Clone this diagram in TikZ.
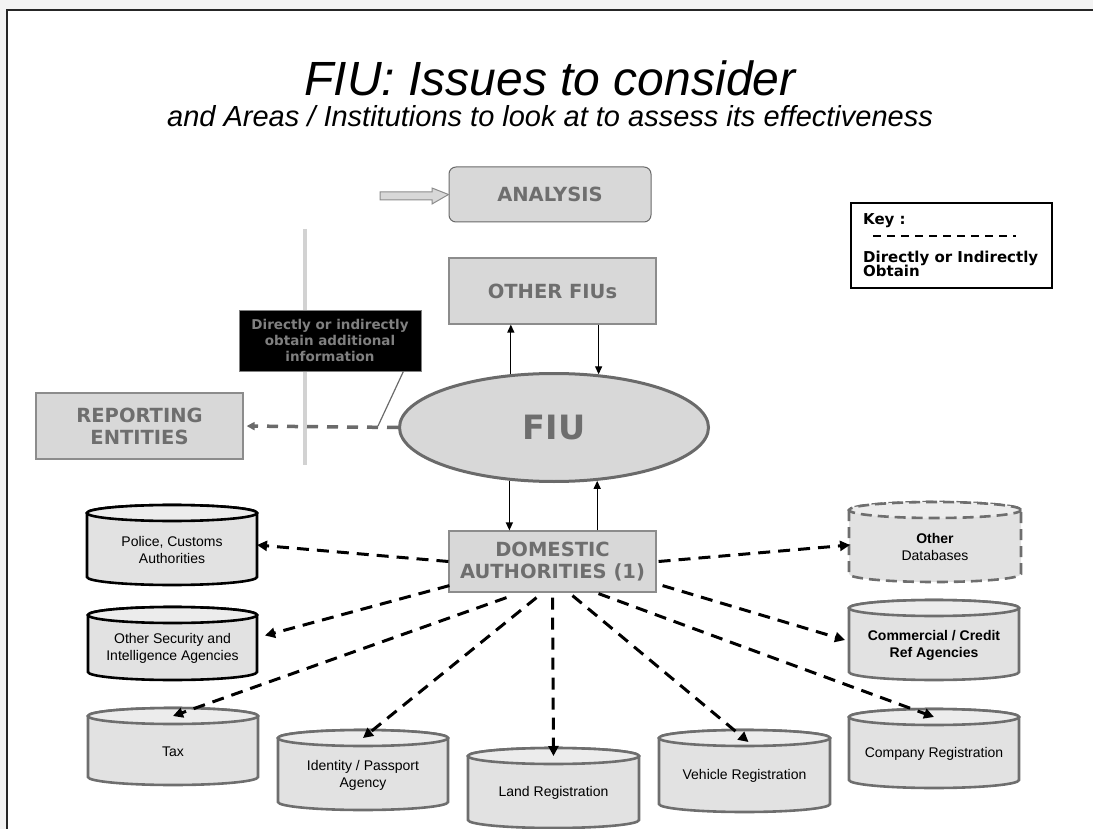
\documentclass[tikz,border=0pt]{standalone}
\usepackage{fontspec}
\setmainfont{Liberation Sans}
\newfontfamily\labelfont{DejaVu Sans}
\usetikzlibrary{arrows.meta,calc,shapes.geometric}

\definecolor{pagegray}{HTML}{F3F3F3}
\definecolor{boxfill}{HTML}{D8D8D8}
\definecolor{boxedge}{HTML}{8C8C8C}
\definecolor{labelgray}{HTML}{6E6E6E}
\definecolor{fiuedge}{HTML}{6A6A6A}
\definecolor{drumfill}{HTML}{E2E2E2}
\definecolor{drumtopfill}{HTML}{ECECEC}
\definecolor{drumgray}{HTML}{6E6E6E}
\definecolor{railgray}{HTML}{D2D2D2}
\definecolor{calloutgray}{HTML}{808080}

\tikzset{
  panel/.style={rectangle, fill=boxfill, draw=boxedge, line width=1.2pt,
    text=labelgray, font=\labelfont\bfseries\fontsize{19.5}{22}\selectfont,
    align=center, inner sep=0pt},
  drumbody/.style={fill=drumfill, draw=drumgray, line width=2.6pt},
  drumtop/.style={fill=drumtopfill, draw=drumgray, line width=2.6pt},
  drumdark/.style={draw=black},
  drumdash/.style={dash pattern=on 11pt off 6pt},
  drumtext/.style={font=\fontsize{14}{17}\selectfont, align=center, text=black},
  drumframe/.style={rectangle, inner sep=0pt, outer sep=0pt},
  keyline/.style={anchor=base west, inner sep=0pt, font=\labelfont\bfseries\fontsize{15}{15}\selectfont},
  query/.style={draw=black, line width=3pt, dash pattern=on 12pt off 8pt,
    -{Triangle[length=10pt,width=10pt]}},
  flow/.style={draw=black, line width=1.3pt, -{Triangle[length=8pt,width=7pt]}},
}

% a storage drum: name, centre x, top y, x radius, height, extra style, text
\newcommand\drum[7]{%
  \path[drumbody,#6] (#2-#4,#3+8) -- (#2-#4,#3+#5-8)
    arc[start angle=180,end angle=360,x radius=#4pt,y radius=8pt]
    -- (#2+#4,#3+8)
    arc[start angle=0,end angle=180,x radius=#4pt,y radius=8pt] -- cycle;
  \path[drumtop,#6] (#2,#3+8) ellipse[x radius=#4pt,y radius=8pt];
  \node[drumframe, minimum width=2*#4 pt, minimum height=#5 pt] (#1) at (#2,#3+#5/2) {};
  \coordinate (#1-top) at (#2,#3+8);
  \node[drumtext] (#1-label) at ($(#1.center)+(0,5)$) {#7};
}

\begin{document}
\begin{tikzpicture}[x=1pt,y=-1pt]
\useasboundingbox (0,0) rectangle (1093,829);

% page frame
\fill[pagegray] (0,0) rectangle (1093,9);
\fill[pagegray] (0,9) rectangle (6,829);
\draw[line width=2pt, black!85] (7,829) -- (7,10) -- (1093,10);

% headings
\node[anchor=base, inner sep=0pt, text depth=0pt, font=\itshape\fontsize{48}{52}\selectfont] (title) at (550,96) {FIU: Issues to consider};
\node[anchor=base, inner sep=0pt, font=\itshape\fontsize{29}{32}\selectfont] (subtitle) at (550,127)
  {and Areas / Institutions to look at to assess its effectiveness};

% upper part
\node[panel, rounded corners=7pt, draw=fiuedge, line width=1pt,
  minimum width=202pt, minimum height=55pt] (analysis) at (550,194.5) {ANALYSIS};
\filldraw[fill=boxfill, draw=boxedge, line width=1pt]
  (380,192) -- (432,192) -- (432,188) -- (analysis.west) -- (432,204) -- (432,200) -- (380,200) -- cycle;

\draw[railgray, line width=4pt] (305,229) -- (305,465);

\node[panel, minimum width=207pt, minimum height=66pt] (ofiu) at (552.5,291) {OTHER FIUs};
\node[ellipse, fill=boxfill, draw=fiuedge, line width=3pt, minimum width=309pt,
  minimum height=108pt, inner sep=0pt, text=labelgray,
  font=\labelfont\bfseries\fontsize{33.5}{36}\selectfont] (fiu) at (554,427.5) {FIU};
\node[panel, minimum width=207pt, minimum height=66pt] (rep) at (139.5,426) {REPORTING\\ENTITIES};
\node[panel, minimum width=207pt, minimum height=61pt] (da) at (552.5,561.5) {DOMESTIC\\AUTHORITIES (1)};

\node[rectangle, fill=black, draw=calloutgray, line width=0.8pt, minimum width=182pt,
  minimum height=61pt, inner sep=0pt, text=calloutgray, align=center,
  font=\labelfont\bfseries\fontsize{13.5}{16}\selectfont] (callout) at (330,340.5)
  {Directly or indirectly\\obtain additional\\information};

% links between the FIU and its counterparts
\draw[flow] (fiu.129.6) -- (fiu.129.6 |- ofiu.south);
\draw[flow] (fiu.50.4 |- ofiu.south) -- (fiu.50.4);
\draw[flow] (fiu.230.4) -- (fiu.230.4 |- da.north);
\draw[flow] (fiu.309.6 |- da.north) -- (fiu.309.6);

\coordinate (calloutfoot) at (378,426);
\draw[fiuedge, line width=3.5pt, dash pattern=on 11pt off 9pt,
  -{Triangle[length=8pt,width=8pt]}, shorten >=3pt] (fiu.west) -- (rep.east);
\draw[fiuedge, line width=1.2pt] ($(callout.south east)+(-18,0)$) -- (calloutfoot);

% key
\draw[line width=1.3pt] (851,203) rectangle (1052,288);
\node[keyline] (keyhead) at (863,225) {Key :};
\draw[line width=2pt, dash pattern=on 8pt off 6pt] (873,236) -- (1016,236);
\node[keyline] (keytext) at (863,262) {Directly or Indirectly};
\node[keyline] (keytext2) at (863,277) {Obtain};

% databases
\drum{police}{172}{505}{85}{80}{drumdark}{Police, Customs\\Authorities}
\drum{security}{172.5}{607}{84.5}{73}{drumdark}{Other Security and\\Intelligence Agencies}
\drum{tax}{173}{708}{85}{77}{}{Tax}
\drum{identity}{363}{730}{85}{80}{}{Identity / Passport\\Agency}
\drum{land}{553.5}{748}{85.5}{80}{}{Land Registration}
\drum{vehicle}{744.5}{730}{85.5}{82}{}{Vehicle Registration}
\drum{company}{934}{709}{85}{79}{}{Company Registration}
\drum{commercial}{934}{600}{85}{80}{}{\textbf{Commercial / Credit}\\\textbf{Ref Agencies}}
\drum{otherdb}{935}{502}{86}{80}{drumdash}{\textbf{Other}\\Databases}

% enquiries from the domestic authorities
\draw[query] (da.west) -- (police.east);
\draw[query] ($(da.south west)+(1,-7)$) -- ($(security.east)+(8,-8)$);
\draw[query] ($(da.south)+(-46,5)$) -- (tax-top);
\draw[query] ($(da.south)+(-16,5)$) -- (identity-top);
\draw[query] ($(da.south)+(0,5)$) -- (land-top);
\draw[query] ($(da.south)+(20,3)$) -- ($(vehicle-top)+(4,4)$);
\draw[query] ($(da.south)+(46,1)$) -- (company-top);
\draw[query] ($(da.south east)+(6,-7)$) -- ($(commercial.west)+(-4,0)$);
\draw[query] ($(da.east)+(2,0)$) -- ($(otherdb.west)+(1,3)$);
\end{tikzpicture}
\end{document}
